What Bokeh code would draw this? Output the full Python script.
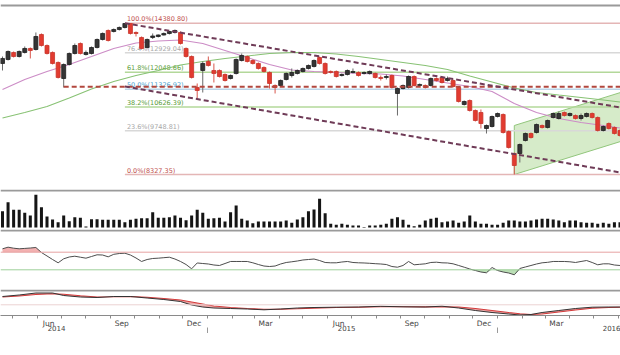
import numpy as np
import pandas as pd
from bokeh.plotting import figure
from bokeh.layouts import column
from bokeh.models import Span, FixedTicker, LinearAxis, Range1d
from bokeh.embed import file_html
from bokeh.resources import INLINE
from bokeh.core.properties import value

# ---------------- data (weekly candles) ----------------
first_week = "2014-04-18"

opens = [12434, 12615, 12938, 12752, 12938, 13126, 13078, 13806, 13268, 12938,
         12479, 11778, 12389, 12891, 13365, 12845, 12891, 13173, 13559, 14007,
         13957, 14058, 14160, 14366, 13907, 13658, 13173, 13658, 13707, 13781,
         13857, 13907, 13907, 13126, 12752, 11402, 12123, 12524, 12123, 12123,
         11949, 11778, 11993, 12569, 12752, 12569, 12434, 12256, 12036, 11484,
         11484, 11736, 11906, 11993, 12080, 12211, 12300, 12706, 12434, 12080,
         12080, 11906, 11949, 12036, 12036, 11993, 11993, 11993, 11821, 11821,
         11906, 11157, 11360, 11402, 11863, 11484, 11484, 11484, 11778, 11821,
         11693, 11693, 11402, 10722, 10878, 10492, 10417, 9832, 9903, 10267,
         10342, 9726, 8983, 8983, 9415, 9656, 9691, 9939, 9868, 10230,
         10194, 10417, 10304, 10304, 10194, 10267, 10379, 10230, 9761, 10011,
         9868, 9761]
highs = [12752, 13031, 12984, 13031, 13221, 13173, 13907, 13857, 13316, 12984,
         12524, 12434, 12938, 13365, 13413, 13031, 13221, 13608, 13907, 14058,
         14109, 14211, 14380.8, 14370, 13957, 13707, 13608, 13857, 13806, 13907,
         13982, 14058, 13957, 13173, 12798, 11568, 12524, 12752, 12434, 12167,
         11993, 11949, 12661, 12891, 12798, 12615, 12479, 12300, 12080, 11526,
         11736, 12036, 12211, 12167, 12256, 12389, 12615, 12752, 12479, 12123,
         12123, 11993, 12167, 12211, 12080, 12080, 12123, 12036, 11906, 11949,
         11949, 11402, 11526, 11906, 11906, 11568, 11526, 11821, 11821, 11863,
         11863, 11736, 11443, 10878, 10918, 10530, 10530, 9975, 10304, 10417,
         10379, 9761, 9016, 9314, 9691, 9691, 10011, 9975, 10157, 10417,
         10454, 10454, 10417, 10342, 10379, 10417, 10417, 10267, 9939, 10048,
         9903, 9797]
lows = [12123, 12569, 12706, 12706, 12891, 12661, 13031, 13221, 12845, 12389,
        11778, 11402, 12344, 12845, 12845, 12798, 12845, 13126, 13510, 13462,
        13907, 14007, 14109, 13806, 13707, 13078, 13126, 13583, 13658, 13756,
        13806, 13857, 13316, 12706, 11778, 10957, 11197, 12300, 11609, 11821,
        11651, 11736, 11949, 12524, 12479, 12389, 12167, 12036, 11360, 11157,
        11443, 11693, 11821, 11949, 12036, 12167, 12256, 12389, 11949, 11993,
        11821, 11863, 11906, 11993, 11863, 11949, 11949, 11778, 11693, 11736,
        11360, 10304, 11319, 11360, 11443, 11443, 11360, 11443, 11651, 11568,
        11651, 11402, 10800, 10683, 10454, 10084, 9832, 9656, 9868, 10230,
        9656, 9147, 8327.35, 8696, 9381, 9483, 9656, 9832, 9832, 10194,
        10157, 10267, 10267, 10157, 10120, 10230, 10194, 9726, 9726, 9797,
        9621, 9552]
closes = [12661, 12984, 12752, 12984, 13126, 13031, 13707, 13268, 12891, 12434,
          11821, 12389, 12891, 13268, 12891, 12938, 13173, 13559, 13857, 13510,
          14058, 14160, 14366, 13857, 13857, 13126, 13559, 13731, 13781, 13857,
          13957, 14007, 13365, 12752, 11821, 11278, 12434, 12344, 11993, 11863,
          11693, 11906, 12615, 12798, 12524, 12434, 12211, 12080, 11568, 11402,
          11693, 11993, 12036, 12123, 12211, 12344, 12569, 12434, 11993, 12036,
          11863, 11949, 12123, 12080, 11906, 12036, 12080, 11821, 11778, 11863,
          11402, 11360, 11484, 11863, 11484, 11526, 11402, 11778, 11693, 11609,
          11778, 11443, 10839, 10839, 10492, 10120, 10011, 9939, 10267, 10379,
          9691, 9180, 8602, 9280, 9656, 9518, 9975, 9868, 10120, 10379,
          10379, 10304, 10379, 10194, 10304, 10379, 10230, 9761, 9903, 9832,
          9656, 9586]
volume = [163, 253, 177, 177, 147, 120, 327, 203, 110, 80,
          53, 120, 63, 103, 97, 10, 83, 83, 77, 77,
          77, 77, 53, 77, 87, 93, 93, 153, 97, 97,
          103, 120, 97, 73, 120, 177, 147, 87, 93, 97,
          60, 153, 220, 87, 70, 43, 60, 60, 60, 60,
          60, 70, 47, 80, 103, 162, 180, 287, 143, 37,
          27, 37, 27, 20, 20, 5, 20, 20, 27, 37,
          87, 103, 77, 27, 13, 27, 70, 87, 97, 53,
          60, 70, 47, 60, 120, 60, 37, 37, 27, 27,
          47, 70, 70, 60, 60, 70, 80, 87, 87, 80,
          70, 53, 70, 70, 53, 47, 47, 37, 47, 37,
          53, 53]
rsi = [77.7, 81.4, 79.1, 77.7, 78.6, 79.5, 80.7, 69.3, 61.4, 53.4,
       45.9, 55.0, 59.1, 60.9, 58.6, 56.4, 60.2, 64.1, 63.6, 59.5,
       65.2, 67.0, 67.7, 63.6, 56.8, 48.9, 53.4, 55.7, 56.4, 57.5,
       58.6, 54.5, 48.9, 42.0, 32.3, 45.5, 44.3, 43.2, 40.9, 39.8,
       44.3, 48.9, 48.9, 48.9, 48.9, 45.9, 42.0, 38.6, 37.5, 38.6,
       43.2, 46.6, 48.2, 50.0, 52.3, 53.4, 54.5, 51.1, 46.6, 45.9,
       45.9, 47.7, 48.9, 46.6, 45.9, 45.5, 44.8, 43.9, 43.2, 42.0,
       37.5, 35.9, 39.8, 48.9, 41.4, 42.5, 43.6, 46.6, 47.3, 45.9,
       45.5, 43.6, 39.8, 35.9, 31.8, 28.4, 25.0, 23.2, 35.2, 28.4,
       25.0, 22.7, 18.6, 33.0, 36.4, 39.8, 43.2, 45.9, 47.0, 48.9,
       48.9, 48.9, 48.2, 46.6, 48.9, 51.1, 46.6, 41.4, 43.6, 43.6,
       40.9, 39.8]
rsi_upper, rsi_lower = 70, 30

macd_week = [0, 3, 6, 9, 11, 14, 17, 20, 23, 26, 29, 32, 34, 36, 38, 41, 44, 47, 50, 53,
             56, 60, 64, 68, 72, 76, 79, 82, 85, 88, 91, 93, 95, 97, 100, 103, 106, 109, 111]
macd_line = [249, 294, 354, 354, 279, 234, 219, 249, 249, 204, 159, 99, -6, -66, -96, -111, -126, -150, -126, -96,
             -81, -72, -66, -45, -60, -66, -42, -96, -171, -231, -276, -306, -291, -231, -171, -111, -72, -66, -66]
macd_signal = [234, 264, 309, 333, 315, 270, 234, 240, 249, 225, 189, 144, 84, 24, -36, -81, -111, -132, -135, -120,
               -99, -81, -72, -60, -57, -63, -57, -66, -111, -171, -231, -270, -291, -276, -216, -156, -105, -81, -75]

ma_week = [0, 4, 8, 12, 16, 20, 24, 28, 32, 36, 40, 44, 48, 52, 56, 60, 64, 68, 72, 76,
           80, 84, 88, 92, 96, 100, 104, 108, 111]
ma_short = [11319, 11736, 12080, 12389, 12752, 13126, 13389, 13486, 13535, 13365, 13031, 12706, 12389, 12145,
            12080, 12036, 11993, 11971, 11885, 11736, 11589, 11443, 11238, 10761, 10417, 10194, 10048, 9939, 9850]
ma_long = [10211, 10417, 10645, 10977, 11340, 11651, 11906, 12123, 12366, 12524, 12661, 12775, 12891, 12938,
           12938, 12868, 12752, 12615, 12479, 12344, 12167, 11885, 11630, 11381, 11197, 11096, 10997, 10898, 10820]

fib_pct = ["100.0%", "76.4%", "61.8%", "50.0%", "38.2%", "23.6%", "0.0%"]
fib_price = [14380.80, 12929.04, 12048.66, 11326.92, 10626.39, 9748.81, 8327.35]
fib_start_week = 22

support_price = 11430
support_start_week = 11
trend_start_week = 22
trend_upper = [14380.80, 10607]
trend_lower = [11443, 8388]
channel_start_week = 92
channel_top = [9939, 11197]
channel_bottom = [8327.35, 9381]

month_labels = ["Jun", "Sep", "Dec", "Mar", "Jun", "Sep", "Dec", "Mar"]
month_label_dates = ["2014-06-15", "2014-09-15", "2014-12-15", "2015-03-15",
                     "2015-06-15", "2015-09-15", "2015-12-15", "2016-03-15"]
year_labels = ["2014", "2015", "2016"]
year_label_dates = ["2014-06-25", "2015-06-25", "2016-06-03"]
year_starts = ["2015-01-01", "2016-01-01"]

# ---------------- layout helpers ----------------
DAY = 86400000.0
W = 620
PX_PER_DAY = 0.7947
X0_PX = 2.0
dates = pd.date_range(first_week, periods=len(closes), freq="7D")
t = dates.asi8 / 1e6
x_start = t[0] - X0_PX / PX_PER_DAY * DAY
x_end = x_start + W / PX_PER_DAY * DAY
xr = Range1d(x_start, x_end)

def ms(lst):
    return [float(v) for v in pd.to_datetime(lst).asi8 / 1e6]

def lin_range(v1, r1, v2, r2, top_row, bot_row):
    per = (v1 - v2) / (r2 - r1)
    return Range1d(v1 - (bot_row - r1) * per, v1 + (r1 - top_row) * per), (lambda r: v1 - (r - r1) * per)

def panel(top_row, bot_row, y_range, y_type="linear", xaxis=False):
    p = figure(frame_width=W, frame_height=bot_row - top_row, x_range=xr, y_range=y_range,
               y_axis_type=y_type, output_backend="svg", toolbar_location=None,
               x_axis_location="below" if xaxis else None, y_axis_location=None,
               min_border=0, min_border_left=0, min_border_right=0, min_border_top=0,
               min_border_bottom=0, outline_line_color=None,
               background_fill_color="white", border_fill_color="white")
    p.grid.visible = False
    return p

SEP = "#9a9a9a"

# ---------------- price panel ----------------
FIB_HIGH_ROW, FIB_LOW_ROW = 22.7, 174.0
lnk = (np.log(fib_price[0]) - np.log(fib_price[-1])) / (FIB_LOW_ROW - FIB_HIGH_ROW)
def price_row(r):
    return fib_price[0] * np.exp((FIB_HIGH_ROW - r) * lnk)

p1 = panel(0, 189, Range1d(price_row(189), price_row(0)), "log")
p1.add_layout(Span(location=price_row(5), dimension="width", line_color=SEP, line_width=2))

cx = t[channel_start_week]
p1.patch([cx, x_end, x_end, cx],
         [channel_top[0], channel_top[1], channel_bottom[1], channel_bottom[0]],
         fill_color="#cfe7bf", fill_alpha=0.85, line_color="#92c67c", line_width=1)

fib_line_colors = ["#e4b6b6", "#d8d8d8", "#b3d89a", "#bcd5e8", "#b3d89a", "#d8d8d8", "#e4b6b6"]
fib_text_colors = ["#c0504d", "#a8a8a8", "#5a9c38", "#4aa3d0", "#5a9c38", "#a8a8a8", "#c0504d"]
fx = t[fib_start_week]
for pct, pr, lc, tc in zip(fib_pct, fib_price, fib_line_colors, fib_text_colors):
    p1.segment(x0=[fx], y0=[pr], x1=[x_end], y1=[pr], line_color=lc, line_width=1.5)
    p1.text(x=[fx], y=[pr], text=[f"{pct}({pr:.2f})"], text_font=value("DejaVu Sans"),
            text_font_size="6.5px", text_color=tc, text_baseline="bottom", x_offset=2)

p1.line(t[ma_week], ma_long, line_color="#88c274", line_width=1.1)
p1.line(t[ma_week], ma_short, line_color="#cc8cc6", line_width=1.1)

o = np.array(opens, float); h = np.array(highs, float)
l = np.array(lows, float); c = np.array(closes, float)
up = c >= o
dn = ~up
p1.segment(x0=t[up], y0=h[up], x1=t[up], y1=l[up], line_color="#6a6a6a", line_width=1)
p1.segment(x0=t[dn], y0=h[dn], x1=t[dn], y1=l[dn], line_color="#d8564c", line_width=1)
BW = 5.0 * DAY
p1.vbar(x=t[up], width=BW, top=c[up], bottom=o[up], fill_color="#353535", line_color="#1e1e1e", line_width=0.8)
p1.vbar(x=t[dn], width=BW, top=o[dn], bottom=c[dn], fill_color="#e23b30", line_color="#c8352b", line_width=0.8)

tx = t[trend_start_week]
p1.line([t[support_start_week], x_end], [support_price, support_price],
        line_color="#b2473e", line_width=2, line_dash="5 3")
p1.line([tx, x_end], trend_upper, line_color="#6f3b57", line_width=2, line_dash="5 3")
p1.line([tx, x_end], trend_lower, line_color="#6f3b57", line_width=2, line_dash="5 3")

# ---------------- volume panel ----------------
vr, vrow = lin_range(0, 227, 100, 217, 189, 229)
p2 = panel(189, 229, vr)
p2.add_layout(Span(location=vrow(190), dimension="width", line_color=SEP, line_width=2))
p2.vbar(x=t, width=3.8 * DAY, top=volume, bottom=0, fill_color="#151515", line_color=None)

# ---------------- RSI panel ----------------
rr, rrow = lin_range(rsi_upper, 251.7, rsi_lower, 269.3, 229, 289)
p3 = panel(229, 289, rr)
p3.add_layout(Span(location=rrow(230), dimension="width", line_color=SEP, line_width=2))
rv = np.array(rsi, float)
p3.varea(x=t, y1=rsi_upper, y2=np.maximum(rv, rsi_upper), fill_color="#f2a9a9", fill_alpha=0.9)
p3.varea(x=t, y1=np.minimum(rv, rsi_lower), y2=rsi_lower, fill_color="#b4dcae", fill_alpha=0.9)
p3.add_layout(Span(location=rsi_upper, dimension="width", line_color="#e6a3a3", line_width=1))
p3.add_layout(Span(location=rsi_lower, dimension="width", line_color="#9fd19a", line_width=1))
p3.line(t, rv, line_color="#4d4d4d", line_width=1)

# ---------------- MACD panel ----------------
mr, mrow = lin_range(0, 304.3, 300, 294.3, 289, 315)
p4 = panel(289, 315, mr, xaxis=True)
p4.add_layout(Span(location=mrow(290), dimension="width", line_color=SEP, line_width=2))
p4.add_layout(Span(location=0, dimension="width", line_color="#ecd2d2", line_width=1))
mx = t[macd_week]
p4.varea(x=mx, y1=macd_line, y2=macd_signal, fill_color="#e99494", fill_alpha=0.8)
p4.line(mx, macd_signal, line_color="#d43c3c", line_width=1.1)
p4.line(mx, macd_line, line_color="#333333", line_width=1)

ax = p4.xaxis[0]
label_ms = ms(month_label_dates)
ax.ticker = FixedTicker(ticks=label_ms, minor_ticks=ms(pd.date_range("2014-05-01", "2016-06-01", freq="MS")))
ax.major_label_overrides = {m: s for m, s in zip(label_ms, month_labels)}
ax.axis_line_color = "#8a8a8a"
ax.major_tick_out = 0
ax.major_tick_in = 0
ax.minor_tick_out = 3
ax.minor_tick_in = 0
ax.minor_tick_line_color = "#8a8a8a"
ax.major_label_standoff = 0
ax.major_label_text_font = "DejaVu Sans"
ax.major_label_text_font_size = "7.5px"
ax.major_label_text_color = "#444444"

yl_ms = ms(year_label_dates)
yl_ms[-1] = float(t[-1])
yax = LinearAxis(ticker=FixedTicker(ticks=yl_ms, minor_ticks=ms(year_starts)),
                 major_label_overrides={m: s for m, s in zip(yl_ms, year_labels)},
                 axis_line_color=None, major_tick_out=0, major_tick_in=0,
                 minor_tick_in=3, minor_tick_out=3, minor_tick_line_color="#9a9a9a",
                 major_label_standoff=-9, major_label_text_font="DejaVu Sans",
                 major_label_text_font_size="7px", major_label_text_color="#444444")
p4.add_layout(yax, "below")

layout = column(p1, p2, p3, p4, spacing=0)
open("out.html", "w").write(file_html(layout, INLINE))
